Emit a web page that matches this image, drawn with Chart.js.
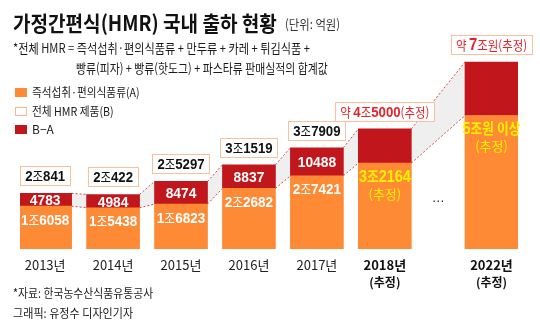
<!DOCTYPE html>
<html>
<head>
<meta charset="utf-8">
<script src="https://cdn.jsdelivr.net/npm/chart.js@4/dist/chart.umd.min.js"></script>
<style>
body { margin: 0; background: #fff; font-family: 'Noto Sans CJK KR', sans-serif; color: #1a1a1a; }
#wrap { position: relative; width: 540px; height: 334px; overflow: hidden; background: #fff; }
#c { position: absolute; left: 0; top: 0; }
.t { position: absolute; white-space: nowrap; line-height: 1; transform-origin: 0 50%; }
.sq { position: absolute; left: 15px; width: 12px; height: 9px; box-sizing: border-box; }
</style>
</head>
<body>
<div id="wrap">
    <canvas id="c" width="540" height="334"></canvas>
    <div class="t fit" data-w="264" style="left:13px;top:12px;font-size:21px;font-weight:bold;color:#111">가정간편식(HMR) 국내 출하 현황</div>
    <div class="t fit" data-w="55" style="left:285px;top:17px;font-size:13px;color:#333">(단위: 억원)</div>
    <div class="t fit" data-w="297" style="left:13px;top:41px;font-size:13px">*전체 HMR = 즉석섭취·편의식품류 + 만두류 + 카레 + 튀김식품 +</div>
    <div class="t fit" data-w="252" style="left:76px;top:61px;font-size:13px">빵류(피자) + 빵류(핫도그) + 파스타류 판매실적의 합계값</div>

    <div class="sq" style="top:88px;background:#fe8a36"></div>
    <div class="t fit" data-w="108" style="left:32px;top:86px;font-size:12px">즉석섭취·편의식품류(A)</div>
    <div class="sq" style="top:107px;background:#fff;border:1px solid #f9b98c"></div>
    <div class="t fit" data-w="82" style="left:32px;top:105px;font-size:12px">전체 HMR 제품(B)</div>
    <div class="sq" style="top:125px;background:#c1161b"></div>
    <div class="t" style="left:32px;top:123px;font-size:12px">B−A</div>

    <div class="t fit" data-w="140" style="left:13px;top:287px;font-size:12px">*자료: 한국농수산식품유통공사</div>
    <div class="t fit" data-w="120" style="left:13px;top:307px;font-size:12px">그래픽: 유정수 디자인기자</div>
</div>
<script>
// 데이터 (단위: 억원)
const years = ['2013년', '2014년', '2015년', '2016년', '2017년', '2018년', '2022년'];
const yearNotes = ['', '', '', '', '', '(추정)', '(추정)'];
const estimated = [false, false, false, false, false, true, true];
// 2018년과 2022년 사이는 생략 구간이라 간격이 넓다
const slots = [0, 1, 2, 3, 4, 5, 6.57];
const instantFood = [16058, 15438, 16823, 22682, 27421, 32164, 50000];   // A
const otherHmr = [4783, 4984, 8474, 8837, 10488, 12836, 20000];         // B-A
const totalLabels = ['2조841', '2조422', '2조5297', '3조1519', '3조7909', '약 4조5000(추정)', '약 7조원(추정)'];
const instantLabels = ['1조6058', '1조5438', '1조6823', '2조2682', '2조7421', '3조2164', '5조원 이상'];
const otherLabels = ['4783', '4984', '8474', '8837', '10488', '', ''];

const ORANGE = '#fe8a36';
const RED = '#c1161b';
const KR = '"Noto Sans CJK KR", sans-serif';
const NUM = '"Liberation Sans", Arial, sans-serif';

// 숫자는 굵게, 나머지 글자는 가늘게 섞어서 그리기
function richRuns(ctx, text, numSize, txtSize, numBold, txtBold) {
    return text.match(/\d+|\D+/g).map(r => {
        const isNum = /\d/.test(r);
        const font = isNum ? `${numBold ? 'bold ' : ''}${numSize}px ${NUM}` : `${txtBold ? 'bold ' : ''}${txtSize}px ${KR}`;
        ctx.font = font;
        return { t: r, font: font, w: ctx.measureText(r).width };
    });
}

function drawRich(ctx, runs, cx, baseY, color, sx) {
    const total = runs.reduce((s, r) => s + r.w, 0);
    ctx.save();
    ctx.translate(cx, baseY);
    ctx.scale(sx, 1);
    ctx.fillStyle = color;
    ctx.textBaseline = 'alphabetic';
    ctx.textAlign = 'left';
    let x = -total / 2;
    runs.forEach(r => {
        ctx.font = r.font;
        ctx.fillText(r.t, x, 0);
        x += r.w;
    });
    ctx.restore();
    return total * sx;
}

// 막대 사이 회색 연결 띠
const bandPlugin = {
    id: 'bands',
    beforeDatasetsDraw(chart) {
        const ctx = chart.ctx;
        const lower = chart.getDatasetMeta(0).data;
        const upper = chart.getDatasetMeta(1).data;
        ctx.save();
        for (let i = 0; i < upper.length - 1; i++) {
            const a = upper[i], b = upper[i + 1];
            const ax = a.x + a.width / 2, bx = b.x - b.width / 2;
            ctx.beginPath();
            ctx.moveTo(ax, a.y);
            ctx.lineTo(bx, b.y);
            ctx.lineTo(bx, lower[i + 1].y);
            ctx.lineTo(ax, lower[i].y);
            ctx.closePath();
            ctx.fillStyle = '#efefef';
            ctx.fill();
            ctx.setLineDash([2, 2]);
            ctx.strokeStyle = '#d8474b';
            ctx.lineWidth = 1;
            ctx.beginPath();
            ctx.moveTo(ax, a.y); ctx.lineTo(bx, b.y);
            ctx.moveTo(ax, lower[i].y); ctx.lineTo(bx, lower[i + 1].y);
            ctx.stroke();
        }
        ctx.restore();
    }
};

// 막대 안팎 라벨, 연도 라벨
const labelPlugin = {
    id: 'labels',
    afterDatasetsDraw(chart) {
        const ctx = chart.ctx;
        const lower = chart.getDatasetMeta(0).data;
        const upper = chart.getDatasetMeta(1).data;
        const xs = chart.scales.x;

        upper.forEach((bar, i) => {
            // 합계 박스
            const est = estimated[i];
            const color = est ? '#e3242b' : '#111';
            const runs = richRuns(ctx, totalLabels[i], i === 6 ? 17 : 15, 13, true, false);
            const tw = runs.reduce((s, r) => s + r.w, 0) * 0.88;
            const bw = tw + 10, bh = 19;
            const by = bar.y - 8 - bh;
            ctx.save();
            ctx.fillStyle = '#fff';
            ctx.fillRect(bar.x - bw / 2, by, bw, bh);
            ctx.strokeStyle = '#f8c09b';
            ctx.lineWidth = 1;
            ctx.strokeRect(Math.round(bar.x - bw / 2) + 0.5, Math.round(by) + 0.5, Math.round(bw), bh);
            ctx.restore();
            drawRich(ctx, runs, bar.x, by + 15, color, 0.88);

            // B-A 값
            if (otherLabels[i]) {
                const r2 = richRuns(ctx, otherLabels[i], 15, 13, true, false);
                drawRich(ctx, r2, bar.x, (bar.y + bar.base) / 2 + 5.5, '#fff', 0.92);
            }

            // A 값
            const low = lower[i];
            const r3 = est ? richRuns(ctx, instantLabels[i], 17, 15, true, true)
                           : richRuns(ctx, instantLabels[i], 15, 13, true, false);
            drawRich(ctx, r3, low.x, low.y + (est ? 19 : 18.5), est ? '#fff200' : '#fff', est ? 0.85 : 0.9);
            if (est) {
                ctx.save();
                ctx.font = `13px ${KR}`;
                ctx.fillStyle = '#fff200';
                ctx.textAlign = 'center';
                ctx.textBaseline = 'middle';
                ctx.fillText('(추정)', low.x, low.y + 31);
                ctx.restore();
            }

            // 연도
            ctx.save();
            ctx.textAlign = 'center';
            ctx.textBaseline = 'middle';
            ctx.fillStyle = est ? '#111' : '#222';
            ctx.font = `${est ? 'bold ' : ''}13px ${KR}`;
            ctx.fillText(years[i], low.x, 265);
            if (yearNotes[i]) {
                ctx.font = `bold 12px ${KR}`;
                ctx.fillText(yearNotes[i], low.x, 282);
            }
            ctx.restore();
        });

        // 생략 표시
        ctx.save();
        ctx.font = `13px ${NUM}`;
        ctx.fillStyle = '#222';
        ctx.textAlign = 'center';
        ctx.textBaseline = 'middle';
        ctx.fillText('…', xs.getPixelForValue((slots[5] + slots[6]) / 2), 198);
        ctx.restore();
    }
};

function makeChart() {
    new Chart(document.getElementById('c'), {
        type: 'bar',
        data: {
            datasets: [{
                label: '즉석섭취·편의식품류(A)',
                data: slots.map((x, i) => ({ x: x, y: instantFood[i] })),
                backgroundColor: ORANGE,
                barThickness: 53
            }, {
                label: 'B−A',
                data: slots.map((x, i) => ({ x: x, y: otherHmr[i] })),
                backgroundColor: RED,
                barThickness: 53
            }]
        },
        options: {
            responsive: false,
            animation: false,
            layout: { padding: { left: 20, right: 22, top: 30, bottom: 85 } },
            plugins: {
                legend: { display: false },
                tooltip: { enabled: false }
            },
            scales: {
                x: { type: 'linear', min: -0.37, max: 6.96, offset: false, stacked: true, display: false },
                y: { min: 0, max: 82000, stacked: true, display: false }
            }
        },
        plugins: [bandPlugin, labelPlugin]
    });
}

// 글자 폭 맞추기
function fitTexts() {
    document.querySelectorAll('.fit').forEach(el => {
        const target = parseFloat(el.dataset.w);
        el.style.transform = `scaleX(${target / el.offsetWidth})`;
    });
}

document.fonts.ready.then(() => {
    fitTexts();
    makeChart();
});
</script>
</body>
</html>
